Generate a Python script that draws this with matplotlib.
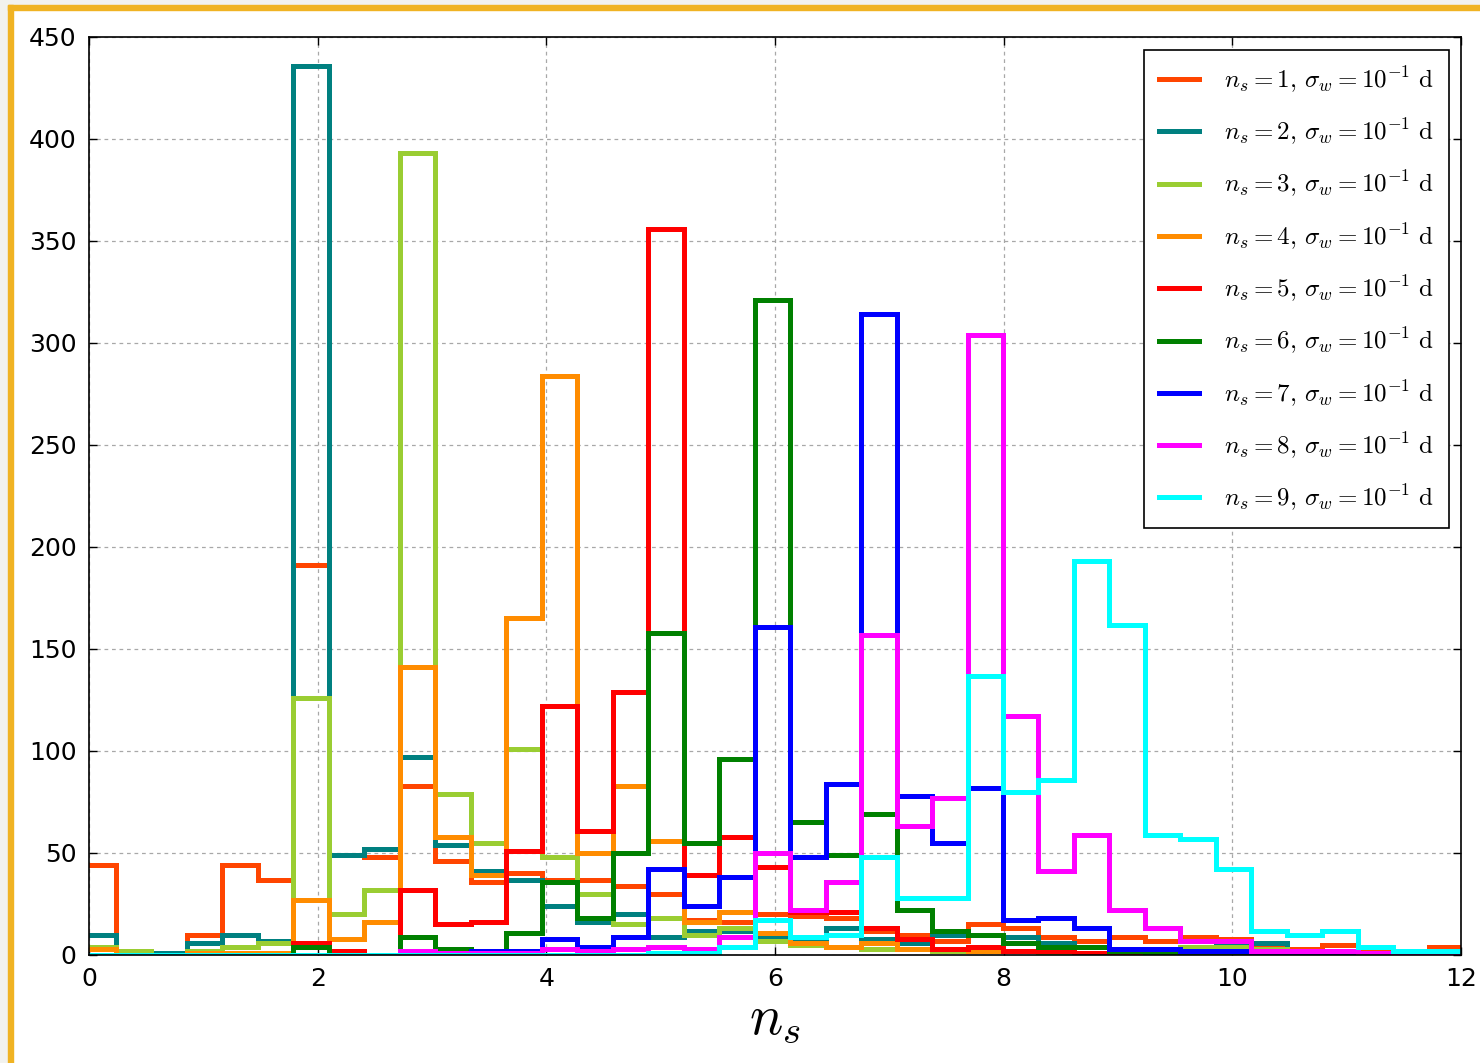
import matplotlib
matplotlib.use('Agg')
import matplotlib.pyplot as plt
import numpy as np
from matplotlib.patches import Rectangle

plt.rcParams['mathtext.fontset'] = 'cm'
plt.rcParams['font.family'] = 'DejaVu Sans'

# bin edges of the histogram (39 bins)
edges = np.linspace(-0.074, 12.028, 40)

# counts per bin, one list per n_s
h1 = [44, 0, 0, 10, 44, 37, 191, 49, 48, 83, 46, 36, 40, 37, 37, 34, 30, 17, 16, 20,
      19, 18, 12, 10, 7, 15, 13, 9, 7, 9, 7, 9, 8, 5, 3, 5, 2, 1, 4]
h2 = [10, 0, 1, 6, 10, 7, 436, 49, 52, 97, 54, 41, 37, 24, 16, 20, 9, 12, 12, 9,
      8, 13, 8, 6, 10, 10, 9, 6, 4, 3, 3, 2, 5, 6, 2, 1, 1, 0, 0]
h3 = [4, 2, 0, 2, 4, 6, 126, 20, 32, 393, 79, 55, 101, 48, 30, 15, 18, 10, 13, 7,
      5, 4, 3, 3, 2, 2, 2, 1, 1, 2, 3, 4, 4, 3, 1, 0, 0, 0, 0]
h4 = [3, 0, 0, 1, 1, 1, 27, 8, 16, 141, 58, 39, 165, 284, 50, 83, 56, 16, 21, 11,
      6, 4, 6, 3, 3, 2, 2, 2, 1, 1, 1, 1, 1, 0, 0, 0, 0, 0, 0]
h5 = [0, 0, 0, 0, 0, 0, 6, 2, 0, 32, 15, 16, 51, 122, 61, 129, 356, 39, 58, 43,
      21, 21, 13, 8, 3, 4, 2, 2, 1, 1, 1, 1, 0, 0, 0, 0, 0, 0, 0]
h6 = [0, 0, 0, 0, 0, 0, 4, 0, 0, 9, 3, 2, 11, 36, 18, 50, 158, 55, 96, 321,
      65, 49, 69, 22, 12, 10, 6, 4, 4, 2, 1, 1, 0, 0, 0, 0, 0, 0, 0]
h7 = [0, 0, 0, 0, 0, 0, 0, 0, 0, 2, 1, 2, 2, 8, 4, 9, 42, 24, 38, 161,
      48, 84, 314, 78, 55, 82, 17, 18, 13, 3, 3, 2, 2, 1, 1, 1, 0, 0, 0]
h8 = [0, 0, 0, 0, 0, 0, 0, 0, 0, 2, 1, 1, 1, 3, 2, 3, 4, 3, 9, 50,
      22, 36, 157, 63, 77, 304, 117, 41, 59, 22, 13, 7, 7, 2, 2, 2, 1, 0, 0]
h9 = [0, 0, 0, 0, 0, 0, 0, 0, 0, 0, 0, 0, 0, 0, 0, 0, 1, 1, 4, 17,
      9, 10, 48, 28, 28, 137, 80, 86, 193, 162, 59, 57, 42, 12, 10, 12, 4, 2, 2]

counts = [h1, h2, h3, h4, h5, h6, h7, h8, h9]
colors = ['#FF4500', '#008080', '#9ACD32', '#FF8C00', '#FF0000',
          '#008000', '#0000FF', '#FF00FF', '#00FFFF']

fig = plt.figure(figsize=(14.8, 10.63), dpi=100)
fig.patch.set_facecolor('white')
# frame around the picture
W, H = 1480.0, 1063.0
fig.patches.append(Rectangle((0, 0), 8 / W, 1, transform=fig.transFigure,
                             color='#f2f2ee', zorder=-5))
fig.patches.append(Rectangle((0, 1 - 5 / H), 1, 5 / H, transform=fig.transFigure,
                             color='#f2f2ee', zorder=-5))
fig.patches.append(Rectangle((8 / W, 0), 5 / W, 1 - 5 / H, transform=fig.transFigure,
                             color='#f0b323', zorder=-4))
fig.patches.append(Rectangle((8 / W, 1 - 10 / H), 1 - 8 / W, 5 / H, transform=fig.transFigure,
                             color='#f0b323', zorder=-4))

ax = fig.add_axes([89 / W, 1 - 955 / H, (1461 - 89) / W, (955 - 37) / H])

for i, (h, c) in enumerate(zip(counts, colors)):
    ax.stairs(h, edges, color=c, linewidth=3.6,
              label=r'$n_s=%d,\,\sigma_w=10^{-1}\ \mathrm{d}$' % (i + 1))

ax.set_xlim(0, 12)
ax.set_ylim(0, 450)
ax.set_xticks(np.arange(0, 13, 2))
ax.set_yticks(np.arange(0, 451, 50))
ax.grid(True, linestyle=(0, (3, 3)), color='#a8a8a8', linewidth=0.9)
ax.set_axisbelow(True)
ax.tick_params(direction='in', top=True, right=True, length=6, width=1,
               labelsize=18, pad=9)
for s in ax.spines.values():
    s.set_linewidth(1.2)

ax.set_xlabel(r'$n_s$', fontsize=40, labelpad=0)

leg = ax.legend(loc='upper right', fontsize=18, fancybox=False, framealpha=1,
                edgecolor='black', handlelength=1.6, handletextpad=1.0,
                labelspacing=0.88, borderpad=0.6, borderaxespad=0.5)
leg.get_frame().set_linewidth(1.2)

fig.savefig('out.png', dpi=100)
